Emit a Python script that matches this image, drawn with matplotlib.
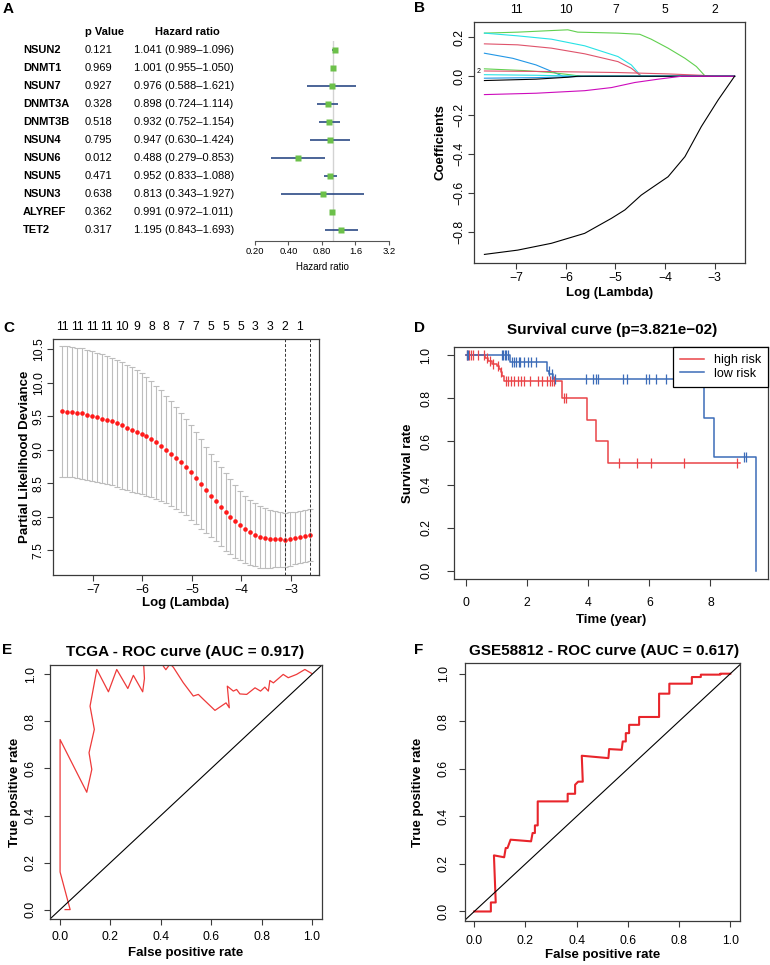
import numpy as np
import matplotlib
matplotlib.use("Agg")
import matplotlib.pyplot as plt
import matplotlib.transforms as mtransforms
from matplotlib.ticker import NullLocator
from matplotlib.lines import Line2D

plt.rcParams['font.family'] = ['Liberation Sans', 'DejaVu Sans']

W, H = 770, 965

# ---------------- A: forest plot (univariate Cox) ----------------
genes = ["NSUN2", "DNMT1", "NSUN7", "DNMT3A", "DNMT3B", "NSUN4",
         "NSUN6", "NSUN5", "NSUN3", "ALYREF", "TET2"]
p_vals = ["0.121", "0.969", "0.927", "0.328", "0.518", "0.795",
          "0.012", "0.471", "0.638", "0.362", "0.317"]
hr = [1.041, 1.001, 0.976, 0.898, 0.932, 0.947, 0.488, 0.952, 0.813, 0.991, 1.195]
hr_lo = [0.989, 0.955, 0.588, 0.724, 0.752, 0.630, 0.279, 0.833, 0.343, 0.972, 0.843]
hr_hi = [1.096, 1.050, 1.621, 1.114, 1.154, 1.424, 0.853, 1.088, 1.927, 1.011, 1.693]
hr_ticks = [0.2, 0.4, 0.8, 1.6, 3.2]
hr_tick_labels = ["0.20", "0.40", "0.80", "1.6", "3.2"]

# ---------------- B: LASSO coefficient paths ----------------
coef_col = ["#61D04F", "#28E2E5", "#DF536B", "#2297E6", "#61D04F", "#DF536B",
            "#28E2E5", "#2297E6", "#000000", "#CD0BBC", "#000000"]
coef_lam = [
    [-7.64, -6.97, -5.96, -5.76, -4.95, -4.51, -4.28, -3.94, -3.60, -3.37, -3.19, -2.60],
    [-7.64, -6.97, -6.29, -5.62, -4.95, -4.68, -4.48, -2.60],
    [-7.64, -6.97, -6.29, -5.62, -4.95, -4.68, -4.48, -2.60],
    [-7.64, -7.07, -6.60, -6.23, -6.06, -2.60],
    [-7.64, -6.83, -6.29, -5.89, -5.69, -2.60],
    [-7.64, -6.29, -4.95, -3.94, -3.27, -3.00, -2.60],
    [-7.64, -6.60, -5.62, -2.60],
    [-7.64, -6.60, -5.50, -2.60],
    [-7.64, -6.60, -5.96, -5.76, -2.60],
    [-7.64, -6.60, -5.62, -5.08, -4.61, -4.14, -3.67, -2.60],
    [-7.64, -6.97, -6.29, -5.62, -5.08, -4.81, -4.48, -4.28, -3.94, -3.60, -3.27, -2.93, -2.60],
]
coef_val = [
    [0.221, 0.226, 0.238, 0.226, 0.221, 0.215, 0.190, 0.144, 0.092, 0.050, 0.0, 0.0],
    [0.221, 0.207, 0.190, 0.156, 0.101, 0.058, 0.0, 0.0],
    [0.166, 0.161, 0.144, 0.115, 0.075, 0.041, 0.0, 0.0],
    [0.118, 0.092, 0.058, 0.019, 0.0, 0.0],
    [0.038, 0.029, 0.019, 0.007, 0.0, 0.0],
    [0.027, 0.024, 0.019, 0.012, 0.005, 0.0, 0.0],
    [0.008, 0.005, 0.0, 0.0],
    [-0.010, -0.007, 0.0, 0.0],
    [-0.022, -0.015, -0.005, 0.0, 0.0],
    [-0.094, -0.087, -0.074, -0.058, -0.032, -0.015, 0.0, 0.0],
    [-0.913, -0.891, -0.856, -0.805, -0.728, -0.685, -0.609, -0.574, -0.515, -0.412, -0.258, -0.121, 0.0],
]
b_df_at = [-7, -6, -5, -4, -3]
b_df_labels = ["11", "10", "7", "5", "2"]

# ---------------- C: cross-validation ----------------
cv_lam = [-7.62, -7.52, -7.42, -7.32, -7.22, -7.12, -7.02, -6.92, -6.82, -6.72,
          -6.62, -6.52, -6.42, -6.32, -6.22, -6.12, -6.02, -5.92, -5.82, -5.72,
          -5.62, -5.52, -5.42, -5.32, -5.22, -5.12, -5.02, -4.92, -4.82, -4.72,
          -4.62, -4.52, -4.42, -4.32, -4.22, -4.12, -4.02, -3.92, -3.82, -3.72,
          -3.62, -3.52, -3.42, -3.32, -3.22, -3.12, -3.02, -2.92, -2.82, -2.72, -2.62]
cv_mean = [9.57, 9.565, 9.56, 9.55, 9.54, 9.52, 9.50, 9.48, 9.46, 9.44,
           9.42, 9.39, 9.36, 9.33, 9.30, 9.27, 9.24, 9.20, 9.16, 9.11,
           9.06, 9.00, 8.94, 8.88, 8.81, 8.74, 8.66, 8.58, 8.49, 8.40,
           8.31, 8.23, 8.15, 8.07, 8.00, 7.93, 7.87, 7.81, 7.77, 7.73,
           7.70, 7.68, 7.67, 7.665, 7.66, 7.655, 7.665, 7.68, 7.70, 7.715, 7.73]
cv_se = [0.975, 0.975, 0.975, 0.973, 0.972, 0.970, 0.968, 0.965, 0.962, 0.958,
         0.953, 0.948, 0.942, 0.935, 0.927, 0.915, 0.90, 0.885, 0.865, 0.845,
         0.822, 0.80, 0.78, 0.76, 0.74, 0.72, 0.705, 0.69, 0.67, 0.645,
         0.62, 0.60, 0.59, 0.575, 0.56, 0.545, 0.52, 0.50, 0.485, 0.47,
         0.46, 0.445, 0.43, 0.42, 0.41, 0.405, 0.398, 0.393, 0.39, 0.39, 0.39]
cv_df_labels = ["11", "11", "11", "11", "10", "9", "8", "8", "7", "7",
                "5", "5", "5", "3", "3", "2", "1"]
lambda_min = -3.12
lambda_1se = -2.62

# ---------------- D: Kaplan-Meier ----------------
high_t = [0, 0.63, 0.74, 0.85, 1.01, 1.10, 1.14, 1.20, 1.27, 3.14, 3.96, 4.25, 4.64, 8.98]
high_s = [1.0, 0.986, 0.974, 0.960, 0.950, 0.935, 0.920, 0.905, 0.882, 0.80, 0.70, 0.60, 0.50, 0.50]
high_cens = [0.03, 0.11, 0.18, 0.25, 0.40, 0.60, 0.70, 0.80, 0.90, 1.05, 1.16,
             1.33, 1.38, 1.49, 1.59, 1.70, 1.81, 1.92, 2.11, 2.35, 2.49, 2.66,
             2.76, 2.82, 2.89, 3.20, 3.28, 5.02, 5.60, 6.07, 7.13, 8.87]
low_t = [0, 1.44, 2.66, 2.74, 2.87, 7.78, 8.11, 9.49]
low_s = [1.0, 0.970, 0.929, 0.912, 0.889, 0.708, 0.530, 0.0]
low_cens = [0.03, 0.07, 1.19, 1.23, 1.30, 1.33, 1.39, 1.52, 1.59, 1.66, 1.73,
            1.79, 1.92, 2.03, 2.14, 2.31, 2.71, 2.82, 2.92, 3.93, 4.17, 4.25,
            4.31, 5.13, 5.28, 5.89, 5.99, 6.23, 6.56, 6.83, 6.88, 9.10, 9.16]

# ---------------- E / F: ROC curves ----------------
tcga_fpr = [0.02, 0.04, 0.0, 0.0, 0.106, 0.126, 0.115, 0.136, 0.119, 0.146, 0.192,
            0.225, 0.269, 0.291, 0.328, 0.335, 0.33, 0.40, 0.41, 0.42, 0.437, 0.45,
            0.489, 0.529, 0.549, 0.569, 0.615, 0.659, 0.672, 0.664, 0.688, 0.701,
            0.714, 0.741, 0.774, 0.796, 0.813, 0.827, 0.833, 0.847, 0.886, 0.906,
            0.939, 0.972, 0.999]
tcga_tpr = [0.0, 0.0, 0.16, 0.723, 0.499, 0.596, 0.667, 0.766, 0.865, 1.021, 0.926,
            1.021, 0.94, 0.996, 0.926, 0.983, 1.08, 1.08, 1.035, 1.02, 1.045, 1.03,
            0.965, 0.908, 0.915, 0.894, 0.847, 0.879, 0.858, 0.95, 0.929, 0.936,
            0.917, 0.915, 0.943, 0.929, 0.946, 0.929, 0.974, 0.964, 1.0, 0.986,
            1.0, 1.021, 1.004]
geo_fpr = [0.0, 0.065, 0.065, 0.084, 0.077, 0.117, 0.123, 0.130, 0.142, 0.222, 0.228,
           0.237, 0.237, 0.248, 0.248, 0.303, 0.365, 0.365, 0.394, 0.394, 0.406,
           0.424, 0.42, 0.524, 0.527, 0.576, 0.58, 0.592, 0.592, 0.605, 0.605,
           0.644, 0.644, 0.722, 0.722, 0.762, 0.762, 0.85, 0.85, 0.885, 0.885,
           0.961, 0.961, 1.0]
geo_tpr = [0.0, 0.0, 0.038, 0.038, 0.236, 0.228, 0.267, 0.267, 0.302, 0.295, 0.33,
           0.33, 0.362, 0.362, 0.463, 0.463, 0.463, 0.495, 0.495, 0.533, 0.546,
           0.546, 0.655, 0.645, 0.683, 0.68, 0.715, 0.715, 0.75, 0.75, 0.785,
           0.785, 0.818, 0.818, 0.916, 0.916, 0.958, 0.958, 0.986, 0.986, 0.996,
           0.996, 1.0, 1.0]

fig = plt.figure(figsize=(7.7, 9.65), dpi=100)
INK = "#3a3a3a"


def caja(l, t, r, b):
    return [l / W, 1 - b / H, (r - l) / W, (b - t) / H]


def estilo_r(ax, xpad=2.5, ypad=2, largo=4):
    for s in ax.spines.values():
        s.set_color(INK)
        s.set_linewidth(0.9)
    ax.tick_params(axis="x", length=largo, width=0.8, color=INK, labelsize=8.8, pad=xpad)
    ax.tick_params(axis="y", length=largo, width=0.8, color=INK, labelsize=8.8,
                   pad=ypad, labelrotation=90)
    for lab in ax.get_yticklabels():
        lab.set_va("center")


def etiquetas(ax, px, xlab, ylab, x_py, y_px):
    l, t, r, b = px
    ax.set_xlabel(xlab, fontsize=9.5, fontweight="bold")
    ax.set_ylabel(ylab, fontsize=9.5, fontweight="bold")
    ax.xaxis.set_label_coords(0.5, (b - x_py) / (b - t))
    ax.yaxis.set_label_coords((y_px - l) / (r - l), 0.5)
    ax.xaxis.label.set_va("center")
    ax.yaxis.label.set_va("center")


def titulo(ax, px, texto, cx, cy):
    l, t, r, b = px
    ax.text((cx - l) / (r - l), (b - cy) / (b - t), texto, transform=ax.transAxes,
            ha="center", va="center", fontsize=11, fontweight="bold")


def letra(ch, x, y):
    fig.text(x / W, 1 - y / H, ch, fontsize=11, fontweight="bold", ha="left", va="center")


# ---- A ----
pa = (255, 41, 389, 241)
axa = fig.add_axes(caja(*pa))
filas = np.arange(len(genes))
axa.axvline(1, color="#d3d3d3", lw=1, zorder=0)
axa.hlines(filas, hr_lo, hr_hi, color="#2c4a85", lw=1.2, zorder=1)
axa.plot(hr, filas, "s", color="#6cc04a", ms=4.5, mec="none", zorder=2)
axa.set_xscale("log")
axa.set_xlim(0.2, 3.2)
axa.set_ylim(10.61, -0.5)
axa.set_xticks(hr_ticks, hr_tick_labels)
axa.xaxis.set_minor_locator(NullLocator())
axa.set_yticks([])
for s in ["left", "right", "top"]:
    axa.spines[s].set_visible(False)
axa.spines["bottom"].set_color("#555555")
axa.tick_params(axis="x", length=3, width=0.8, color="#555555", labelsize=6.8, pad=1.5)
axa.set_xlabel("Hazard ratio", fontsize=7)
axa.xaxis.set_label_coords(0.5, (241 - 267) / 200)
axa.xaxis.label.set_va("center")
tr = mtransforms.blended_transform_factory(fig.transFigure, axa.transData)
axa.text(85 / W, -1, "p Value", transform=tr, fontsize=8, fontweight="bold", va="center")
axa.text(155 / W, -1, "Hazard ratio", transform=tr, fontsize=8, fontweight="bold", va="center")
for i, g in enumerate(genes):
    axa.text(23 / W, i, g, transform=tr, fontsize=8, fontweight="bold", va="center")
    axa.text(85 / W, i, p_vals[i], transform=tr, fontsize=8, va="center")
    axa.text(134 / W, i, f"{hr[i]:.3f} ({hr_lo[i]:.3f}\u2013{hr_hi[i]:.3f})",
             transform=tr, fontsize=8, va="center")
letra("A", 3, 9)

# ---- B ----
pb = (474, 22, 745, 263)
axb = fig.add_axes(caja(*pb))
for xs, ys, c in zip(coef_lam, coef_val, coef_col):
    axb.plot(xs, ys, color=c, lw=0.8)
axb.set_xlim(-7.85, -2.39)
axb.set_ylim(-0.957, 0.278)
axb.set_xticks([-7, -6, -5, -4, -3])
axb.set_yticks([-0.8, -0.6, -0.4, -0.2, 0.0, 0.2])
estilo_r(axb)
topb = axb.secondary_xaxis("top")
topb.set_xticks(b_df_at, b_df_labels)
topb.tick_params(length=0, pad=4, labelsize=8.8)
topb.spines["top"].set_visible(False)
axb.text(-7.75, 0.022, "2", fontsize=5, ha="center", va="center")
etiquetas(axb, pb, "Log (Lambda)", "Coefficients", 293, 440)
letra("B", 414, 8)

# ---- C ----
pc = (53, 339, 319, 575)
axc = fig.add_axes(caja(*pc))
axc.errorbar(cv_lam, cv_mean, yerr=cv_se, fmt="none", ecolor="#bdbdbd",
             elinewidth=0.8, capsize=2.4, capthick=0.8)
axc.plot(cv_lam, cv_mean, "o", color="#ff1a1a", ms=3.3, mec="none")
axc.axvline(lambda_min, color="#333333", lw=0.7, ls=(0, (3, 2)))
axc.axvline(lambda_1se, color="#333333", lw=0.7, ls=(0, (3, 2)))
axc.set_xlim(-7.81, -2.43)
axc.set_ylim(7.13, 10.65)
axc.set_xticks([-7, -6, -5, -4, -3])
axc.set_yticks([7.5, 8.0, 8.5, 9.0, 9.5, 10.0, 10.5])
estilo_r(axc)
topc = axc.secondary_xaxis("top")
topc.set_xticks(cv_lam[0::3], cv_df_labels)
topc.tick_params(length=0, pad=4, labelsize=8.8)
topc.spines["top"].set_visible(False)
etiquetas(axc, pc, "Log (Lambda)", "Partial Likelihood Deviance", 603, 25)
letra("C", 3, 328)

# ---- D ----
pdd = (454, 347, 768, 579)
axd = fig.add_axes(caja(*pdd))
red, blue = "#ea4448", "#3c6cb8"
axd.step(high_t, high_s, where="post", color=red, lw=1.1)
axd.step(low_t, low_s, where="post", color=blue, lw=1.1)
hi_idx = np.searchsorted(high_t, high_cens, side="right") - 1
lo_idx = np.searchsorted(low_t, low_cens, side="right") - 1
axd.plot(high_cens, np.array(high_s)[hi_idx], "|", color=red, ms=7, mew=0.9)
axd.plot(low_cens, np.array(low_s)[lo_idx], "|", color=blue, ms=7, mew=0.9)
axd.set_xlim(-0.38, 9.88)
axd.set_ylim(-0.038, 1.038)
axd.set_xticks([0, 2, 4, 6, 8])
axd.set_yticks([0.0, 0.2, 0.4, 0.6, 0.8, 1.0])
estilo_r(axd, xpad=8, ypad=10.5, largo=5)
leg = axd.legend([Line2D([], [], color=red, lw=1.1), Line2D([], [], color=blue, lw=1.1)],
                 ["high risk", "low risk"], loc="upper right", fontsize=9,
                 borderaxespad=0, fancybox=False, edgecolor="black", framealpha=1,
                 handlelength=1.9, handletextpad=0.8, labelspacing=0.15, borderpad=0.55)
leg.get_frame().set_linewidth(0.9)
titulo(axd, pdd, "Survival curve (p=3.821e\u221202)", 612, 330)
etiquetas(axd, pdd, "Time (year)", "Survival rate", 620, 408)
letra("D", 414, 328)

# ---- E ----
pe = (50, 665, 322, 919)
axe = fig.add_axes(caja(*pe))
axe.plot(tcga_fpr, tcga_tpr, color="#ee3a3a", lw=0.9)
axe.axline((0, 0), (1, 1), color="black", lw=0.8)
axe.set_xlim(-0.04, 1.04)
axe.set_ylim(-0.04, 1.04)
axe.set_xticks([0.0, 0.2, 0.4, 0.6, 0.8, 1.0])
axe.set_yticks([0.0, 0.2, 0.4, 0.6, 0.8, 1.0])
estilo_r(axe, xpad=5, ypad=5.5)
titulo(axe, pe, "TCGA - ROC curve (AUC = 0.917)", 185, 652)
etiquetas(axe, pe, "False positive rate", "True positive rate", 953, 15)
letra("E", 2, 650)

# ---- F ----
pf = (465, 663, 740, 921)
axf = fig.add_axes(caja(*pf))
axf.plot(geo_fpr, geo_tpr, color="#e8252b", lw=1.5)
axf.axline((0, 0), (1, 1), color="black", lw=0.8)
axf.set_xlim(-0.036, 1.038)
axf.set_ylim(-0.04, 1.045)
axf.set_xticks([0.0, 0.2, 0.4, 0.6, 0.8, 1.0])
axf.set_yticks([0.0, 0.2, 0.4, 0.6, 0.8, 1.0])
estilo_r(axf, xpad=6, ypad=7)
titulo(axf, pf, "GSE58812 - ROC curve (AUC = 0.617)", 604, 651)
etiquetas(axf, pf, "False positive rate", "True positive rate", 955, 418)
letra("F", 414, 650)

fig.savefig("out.png", dpi=100, facecolor="white")
